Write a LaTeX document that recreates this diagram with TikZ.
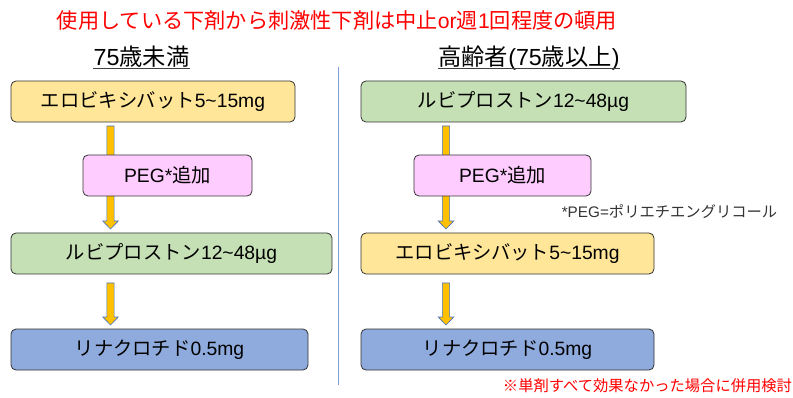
\documentclass[tikz,border=0pt]{standalone}
\usepackage{fontspec}
\setmainfont{Liberation Sans}
\newfontfamily\J{Noto Sans CJK JP}
\usetikzlibrary{calc}
\definecolor{yel}{HTML}{FFE699}
\definecolor{pnk}{HTML}{FFCCFF}
\definecolor{grn}{HTML}{C5E0B4}
\definecolor{blu}{HTML}{8FAADC}
\definecolor{arrfill}{HTML}{FFC000}
\definecolor{arrline}{HTML}{4472C4}
\definecolor{divline}{HTML}{7F9FD8}
\tikzset{
  box/.style={draw=black!80, line width=0.8pt, rounded corners=5pt, minimum height=41pt, inner sep=0pt, font=\fontsize{19.3}{21}\selectfont},
  hdr/.style={inner sep=0pt, anchor=base, font=\fontsize{23.3}{25}\selectfont},
  arrsty/.style={fill=arrfill, draw=arrline, line width=0.6pt},
  note/.style={inner sep=0pt, font=\fontsize{15.3}{16}\selectfont}
}
\newcommand\blockarr[2]{\path[arrsty] let \p1=(#1), \p2=(#2) in
  (\x1-3.6pt,\y1) -- (\x1+3.6pt,\y1) -- (\x1+3.6pt,\y2+8pt) -- (\x1+7.8pt,\y2+8pt) --
  (\x1,\y2) -- (\x1-7.8pt,\y2+8pt) -- (\x1-3.6pt,\y2+8pt) -- cycle;}
\begin{document}
\begin{tikzpicture}[x=1pt,y=-1pt]
\useasboundingbox (0,0) rectangle (793,398);
% title
\node[inner sep=0pt, text=red, font=\fontsize{21.2}{23}\selectfont] (title) at (337,20)
  {{\J 使用している下剤から刺激性下剤は中止}or{\J 週}1{\J 回程度の頓用}};
% headers
\node[hdr] (h1) at (141.5,66) {75{\J 歳未満}};
\draw[line width=1.2pt, black!75] ([yshift=-2.8pt]h1.base west) -- ([yshift=-2.8pt]h1.base east);
\node[hdr] (h2) at (529,66) {{\J 高齢者}(75{\J 歳以上})};
\draw[line width=1.2pt, black!75] ([yshift=-2.8pt]h2.base west) -- ([yshift=-2.8pt]h2.base east);
% divider
\coordinate (d1) at (338,67);
\coordinate (d2) at (338,385);
\draw[divline, line width=1pt] (d1) -- (d2);
% arrow coordinates
\coordinate (la1s) at (110.5,126); \coordinate (la1e) at (110.5,229);
\coordinate (la2s) at (110.5,283); \coordinate (la2e) at (110.5,325);
\coordinate (ra1s) at (446,126); \coordinate (ra1e) at (446,229);
\coordinate (ra2s) at (446,283); \coordinate (ra2e) at (446,325);
\blockarr{la1s}{la1e}
\blockarr{la2s}{la2e}
\blockarr{ra1s}{ra1e}
\blockarr{ra2s}{ra2e}
% left boxes
\node[box, fill=yel, minimum width=284pt] (L1) at (153,101.5) {{\J エロビキシバット}5\textasciitilde15mg};
\node[box, fill=pnk, minimum width=169pt] (L2) at (167.5,175.5) {PEG*{\J 追加}};
\node[box, fill=grn, minimum width=321pt] (L3) at (171.5,253.5) {{\J ルビプロストン}12\textasciitilde48µg};
\node[box, fill=blu, minimum width=297pt] (L4) at (159.5,349.5) {{\J リナクロチド}0.5mg};
% right boxes
\node[box, fill=grn, minimum width=325pt] (R1) at (523.5,101.5) {{\J ルビプロストン}12\textasciitilde48µg};
\node[box, fill=pnk, minimum width=177pt] (R2) at (502.5,175.5) {PEG*{\J 追加}};
\node[box, fill=yel, minimum width=293pt] (R3) at (507.5,253.5) {{\J エロビキシバット}5\textasciitilde15mg};
\node[box, fill=blu, minimum width=293pt] (R4) at (507.5,349.5) {{\J リナクロチド}0.5mg};
% notes
\node[note, text=black!80] (n1) at (669.5,212) {*PEG={\J ポリエチエングリコール}};
\node[note, text=red] (n2) at (647.5,386) {{\J ※単剤すべて効果なかった場合に併用検討}};
\end{tikzpicture}
\end{document}
